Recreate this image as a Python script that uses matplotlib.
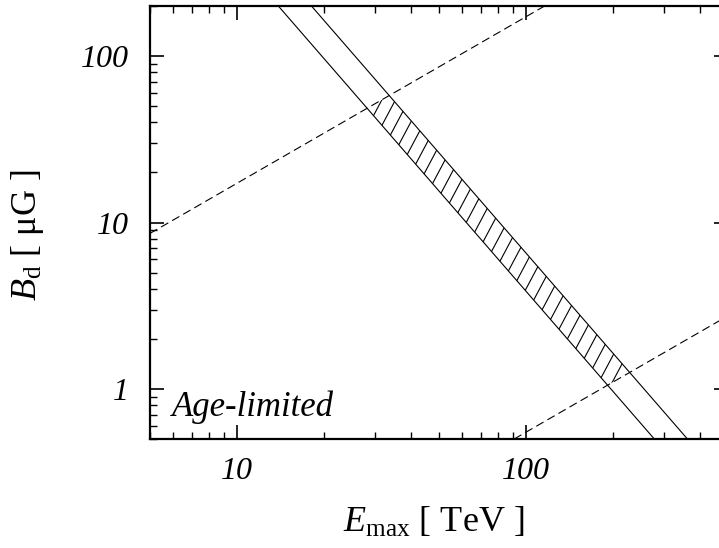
import numpy as np
import matplotlib
matplotlib.use("Agg")
import matplotlib.pyplot as plt
from matplotlib.patches import Polygon
from matplotlib.ticker import LogLocator, NullFormatter


plt.rcParams["font.family"] = "Liberation Serif"
plt.rcParams["mathtext.fontset"] = "custom"
plt.rcParams["mathtext.rm"] = "Liberation Serif"
plt.rcParams["mathtext.it"] = "Liberation Serif:italic"

# line end points (E in TeV, B in microgauss)
solid1_E = [13.9, 278.0]
solid1_B = [200.0, 0.5]
solid2_E = [18.1, 362.0]
solid2_B = [200.0, 0.5]
dash1_E = [5.0, 116.0]
dash1_B = [8.6, 200.0]
dash2_E = [91.0, 500.0]
dash2_B = [0.5, 2.75]

# corners of the hatched region
hatch_E = [28.2, 33.65, 228.5, 191.6]
hatch_B = [48.5, 57.9, 1.255, 1.053]

xticks = [10, 100]
xlabels = ["10", "100"]
yticks = [1, 10, 100]
ylabels = ["1", "10", "100"]

fig = plt.figure(figsize=(7.19, 5.48), dpi=100)
# the right spine sits just outside the picture, like the original crop
W, H = 578.0, 433.0
ax = fig.add_axes([150 / 719, (548 - 439) / 548, W / 719, H / 548])
ax.set_xscale("log")
ax.set_yscale("log")
ax.set_xlim(5, 500)
ax.set_ylim(0.5, 200)

ax.plot(solid1_E, solid1_B, color="black", lw=0.8)
ax.plot(solid2_E, solid2_B, color="black", lw=0.8)
ax.plot(dash1_E, dash1_B, color="black", lw=0.8, ls=(0, (7.5, 4)))
ax.plot(dash2_E, dash2_B, color="black", lw=0.8, ls=(0, (7.5, 4)))

poly = Polygon(np.column_stack([hatch_E, hatch_B]), closed=True,
               fill=False, edgecolor="none")
ax.add_patch(poly)

# hatch lines at ~62 degrees, drawn in axes space and clipped to the region
theta = np.deg2rad(62)
d = np.array([np.cos(theta), np.sin(theta)])
nrm = np.array([np.sin(theta), -np.cos(theta)])
spacing = 12.0
for k in np.arange(-80, 80):
    p0 = nrm * spacing * k + np.array([W / 2, H / 2])
    a = p0 - d * 800
    b = p0 + d * 800
    ln, = ax.plot([a[0] / W, b[0] / W], [a[1] / H, b[1] / H],
                  transform=ax.transAxes, color="black", lw=0.8)
    ln.set_clip_path(poly)

ax.text(0.038, 0.053, "Age-limited", transform=ax.transAxes,
        fontsize=25, style="italic", va="baseline", ha="left")

ax.set_xticks(xticks, labels=xlabels)
ax.set_yticks(yticks, labels=ylabels)
ax.xaxis.set_minor_locator(LogLocator(base=10, subs=np.arange(2, 10)))
ax.yaxis.set_minor_locator(LogLocator(base=10, subs=np.arange(2, 10)))
ax.xaxis.set_minor_formatter(NullFormatter())
ax.yaxis.set_minor_formatter(NullFormatter())

ax.tick_params(which="both", direction="in", top=True, right=True,
               labelsize=23)
ax.tick_params(which="major", length=10, width=1.2)
ax.tick_params(which="minor", length=5, width=1.0)
ax.tick_params(axis="x", which="major", pad=13)
ax.tick_params(axis="y", which="major", pad=15)
for lab in ax.get_xticklabels() + ax.get_yticklabels():
    lab.set_fontstyle("italic")
for sp in ax.spines.values():
    sp.set_linewidth(1.6)

ax.set_xlabel(r"$E_{\rm max}$ [ TeV ]", fontsize=26)
ax.set_ylabel(r"$B_{\rm d}$ [ μG ]", fontsize=26)
ax.xaxis.set_label_coords(0.49, -0.155)
ax.yaxis.set_label_coords(-0.18, 0.47)

fig.savefig("out.png", dpi=100)
